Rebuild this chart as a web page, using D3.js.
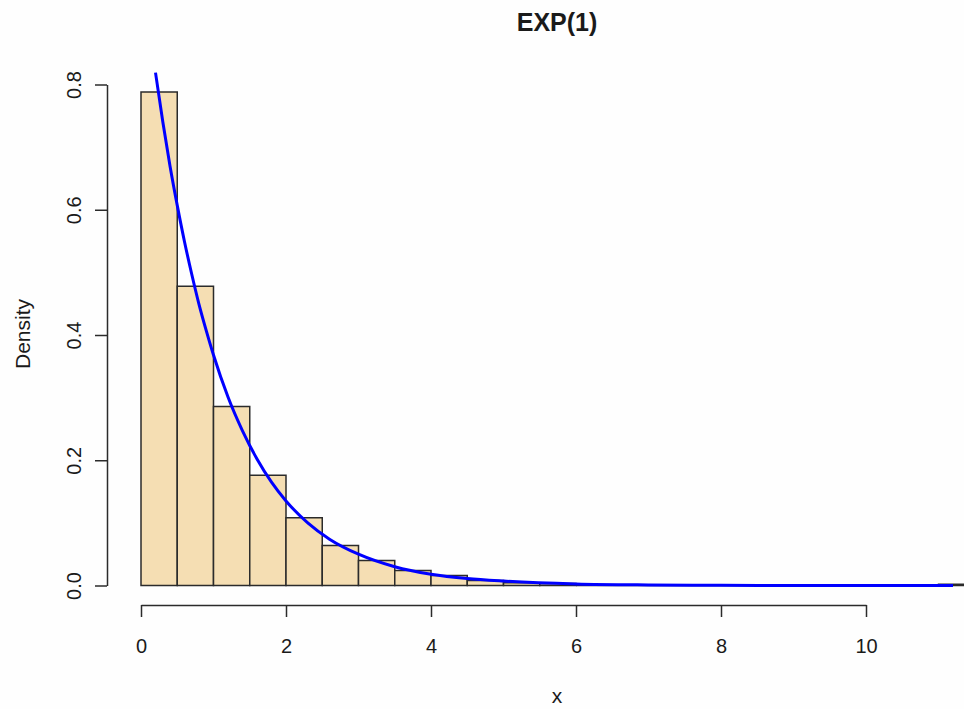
<!DOCTYPE html>
<html>
<head>
<meta charset="utf-8">
<script src="https://cdn.jsdelivr.net/npm/d3@7"></script>
<style>
  html, body { margin: 0; padding: 0; background: #fefefe; }
  svg { display: block; }
  text { font-family: "Liberation Sans", Arial, sans-serif; fill: #1a1a1a; }
</style>
</head>
<body>
<script>
// Histogram of an Exp(1) sample: bins of width 0.5, heights as densities
const binStarts = [0, 0.5, 1, 1.5, 2, 2.5, 3, 3.5, 4, 4.5, 5, 5.5,
                   6, 6.5, 7, 7.5, 8, 8.5, 9, 9.5, 10, 10.5, 11];
const binWidth = 0.5;
const densities = [0.788, 0.478, 0.286, 0.176, 0.108, 0.064, 0.040, 0.024,
                   0.016, 0.008, 0.0045, 0.003,
                   0, 0, 0, 0, 0, 0, 0, 0, 0, 0, 0.002];

// Theoretical density curve, sampled points
const curveX = [0.2, 0.3, 0.4, 0.5, 0.6, 0.7, 0.8, 0.9, 1.0, 1.2, 1.4, 1.6, 1.8, 2.0,
                2.3, 2.6, 3.0, 3.5, 4.0, 4.5, 5.0, 6.0, 7.0, 8.0, 9.0, 10.0, 11.2];
const curveY = [0.819, 0.741, 0.670, 0.607, 0.549, 0.497, 0.449, 0.407, 0.368, 0.301,
                0.247, 0.202, 0.165, 0.135, 0.100, 0.074, 0.050, 0.030, 0.018, 0.011,
                0.007, 0.0025, 0.0009, 0.0003, 0.0001, 0.00005, 0.00001];

const xTicks = [0, 2, 4, 6, 8, 10];
const yTicks = [0, 0.2, 0.4, 0.6, 0.8];

const titleText = "EXP(1)";
const xLabel = "x";
const yLabel = "Density";

const W = 964, H = 709;
const svg = d3.select("body").append("svg").attr("width", W).attr("height", H);

const x = d3.scaleLinear().domain([0, 10]).range([141, 866]);
const y = d3.scaleLinear().domain([0, 0.8]).range([585.5, 84.5]);

const axisY = 605;   // x axis line position
const axisX = 107;   // y axis line position

// Bars drawn as paths so zero-height bins still show their outline
svg.append("g")
  .selectAll("path")
  .data(binStarts.map((s, i) => ({ s, d: densities[i] })))
  .join("path")
  .attr("d", b => {
    const x0 = x(b.s), x1 = x(b.s + binWidth), y0 = y(0), y1 = y(b.d);
    return `M${x0},${y0}V${y1}H${x1}V${y0}Z`;
  })
  .attr("fill", "#f5deb3")
  .attr("stroke", "#2b2b2b")
  .attr("stroke-width", 1.5);

// Density curve
const line = d3.line()
  .x((d, i) => x(curveX[i]))
  .y((d, i) => y(curveY[i]))
  .curve(d3.curveMonotoneX);
svg.append("path")
  .attr("d", line(curveX))
  .attr("fill", "none")
  .attr("stroke", "#0000ff")
  .attr("stroke-width", 3);

// X axis
const gx = svg.append("g")
  .attr("transform", `translate(0,${axisY})`)
  .call(d3.axisBottom(x).tickValues(xTicks).tickSize(12).tickSizeOuter(0)
        .tickFormat(d3.format("d")));
gx.select(".domain").attr("stroke", "#2b2b2b").attr("stroke-width", 1.5);
gx.selectAll(".tick line").attr("stroke", "#2b2b2b").attr("stroke-width", 1.5);
gx.selectAll(".tick text")
  .attr("y", 48).attr("dy", null)
  .style("font-size", "20px")
  .style("font-family", "'Liberation Sans', Arial, sans-serif")
  .attr("fill", "#1a1a1a");

// Y axis
const gy = svg.append("g")
  .attr("transform", `translate(${axisX},0)`)
  .call(d3.axisLeft(y).tickValues(yTicks).tickSize(12).tickSizeOuter(0)
        .tickFormat(d3.format(".1f")));
gy.select(".domain").attr("stroke", "#2b2b2b").attr("stroke-width", 1.5);
gy.selectAll(".tick line").attr("stroke", "#2b2b2b").attr("stroke-width", 1.5);
gy.selectAll(".tick text")
  .attr("x", null).attr("dy", null)
  .attr("text-anchor", "middle")
  .attr("transform", "translate(-26,0) rotate(-90)")
  .style("font-size", "20px")
  .style("font-family", "'Liberation Sans', Arial, sans-serif")
  .attr("fill", "#1a1a1a");

// Title and axis labels
svg.append("text")
  .attr("x", 557).attr("y", 31)
  .attr("text-anchor", "middle")
  .style("font-size", "25px").style("font-weight", "bold")
  .text(titleText);

svg.append("text")
  .attr("x", 557).attr("y", 703)
  .attr("text-anchor", "middle")
  .style("font-size", "21px")
  .text(xLabel);

svg.append("text")
  .attr("transform", "translate(30,334) rotate(-90)")
  .attr("text-anchor", "middle")
  .style("font-size", "21px")
  .text(yLabel);
</script>
</body>
</html>
